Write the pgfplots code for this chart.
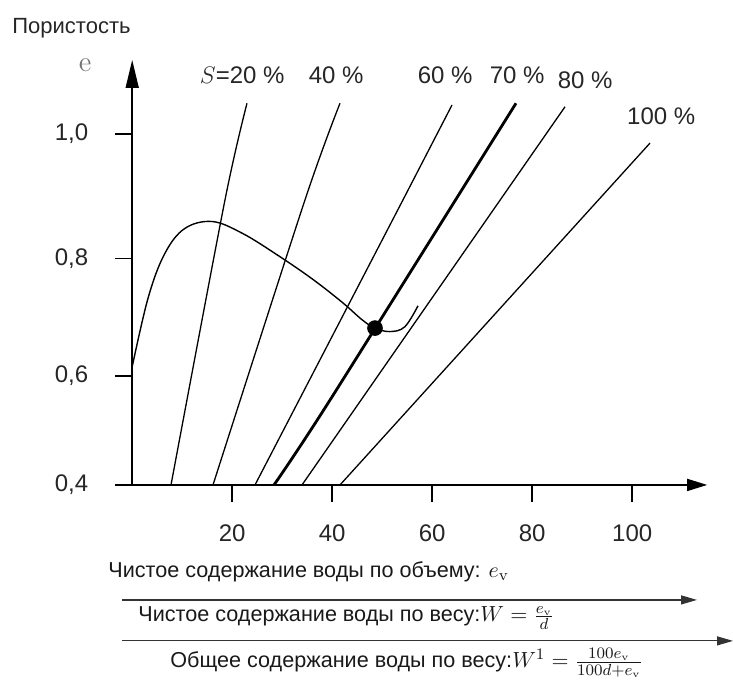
\documentclass[border=0pt]{standalone}
\usepackage[no-math]{fontspec}
\setmainfont{Liberation Sans}
\usepackage{pgfplots}
\pgfplotsset{compat=1.18}
\usetikzlibrary{arrows.meta}

\begin{document}
\begin{tikzpicture}
\begin{axis}[
  scale only axis, width=287.5pt, height=212.5pt,
  xmin=0, xmax=115, ymin=0.4, ymax=1.126,
  axis lines=left, clip=false,
  x axis line style={line width=0.8pt, -{Triangle[length=10pt,width=6pt]}},
  y axis line style={line width=0.8pt, -{Triangle[length=14pt,width=6.5pt]}},
  xtick={20,40,60,80,100}, ytick={0.4,0.586,0.787,1.0},
  yticklabels={{0,4},{0,6},{0,8},{1,0}},
  tick align=outside, major tick length=8.5pt,
  tick style={line width=0.8pt, black},
  ticklabel style={font=\fontsize{12}{14}\selectfont, text=black!85},
  xticklabel style={yshift=-8pt},
  yticklabel style={xshift=-10pt},
  /pgf/number format/assume math mode=true,
]
% saturation lines
\addplot[line width=0.65pt, smooth] coordinates {(7.76,0.4) (18.56,0.887) (22.96,1.052)};
\addplot[line width=0.65pt, smooth] coordinates {(16.16,0.4) (34.56,0.887) (41.56,1.052)};
\addplot[line width=0.65pt] coordinates {(24.56,0.4) (54.16,0.887) (63.96,1.049)};
\addplot[line width=1.4pt, smooth] coordinates {(28.36,0.4) (39.56,0.545) (76.76,1.052)};
\addplot[line width=0.65pt] coordinates {(33.96,0.4) (86.56,1.046)};
\addplot[line width=0.65pt] coordinates {(41.56,0.4) (103.56,0.984)};
% compaction curve
\addplot[line width=0.7pt, smooth, tension=0.6] coordinates {
 (0,0.602) (3.2,0.72) (6.5,0.795) (10.5,0.838) (16,0.850)
 (22,0.830) (29,0.793) (36,0.752) (42,0.712) (46,0.682)
 (48.56,0.668) (51.5,0.662) (54.5,0.670) (57.16,0.706)};
\addplot[only marks, mark=*, mark size=3.7pt] coordinates {(48.56,0.668)};
% labels
\tikzset{lab/.style={font=\fontsize{12}{14}\selectfont, text=black!85}}
\node[lab] at (axis cs:22,1.100) {$S$=20 \%};
\node[lab] at (axis cs:40.8,1.100) {40 \%};
\node[lab] at (axis cs:62.6,1.100) {60 \%};
\node[lab] at (axis cs:77,1.100) {70 \%};
\node[lab] at (axis cs:90.6,1.092) {80 \%};
\node[lab] at (axis cs:105.8,1.029) {100 \%};
\node[text=black!55, font=\fontsize{14}{14}\selectfont] at (axis cs:-9.4,1.117) {$\mathrm{e}$};
\node[anchor=west, inner sep=0, font=\fontsize{11}{13}\selectfont, text=black!85] at (axis cs:-24.04,1.1806) {Пористость};
% bottom scales
\tikzset{btxt/.style={anchor=west, inner sep=0, font=\fontsize{10.8}{12}\selectfont, text=black!90}}
\node[btxt] at (axis cs:-4.84,0.2514) {Чистое содержание воды по объему: $e_{\mathrm{v}}$};
\draw[line width=0.6pt, black!80, -{Triangle[length=8pt,width=4.5pt]}] (axis cs:-2.04,0.2036) -- (axis cs:112.96,0.2036);
\node[btxt] at (axis cs:1.16,0.1730) {Чистое содержание воды по весу:$W={\textstyle\frac{e_{\mathrm{v}}}{d}}$};
\draw[line width=0.6pt, black!80, -{Triangle[length=8pt,width=4.5pt]}] (axis cs:-2.04,0.1336) -- (axis cs:120.16,0.1336);
\node[btxt] at (axis cs:7.56,0.0960) {Общее содержание воды по весу:$W^1={\textstyle\frac{100e_{\mathrm{v}}}{100d+e_{\mathrm{v}}}}$};
\coordinate (BL) at (axis cs:-26.44,0.0635);
\coordinate (TR) at (axis cs:120.16,1.2284);
\end{axis}
\pgfresetboundingbox
\useasboundingbox (BL) rectangle (TR);
\end{tikzpicture}
\end{document}
